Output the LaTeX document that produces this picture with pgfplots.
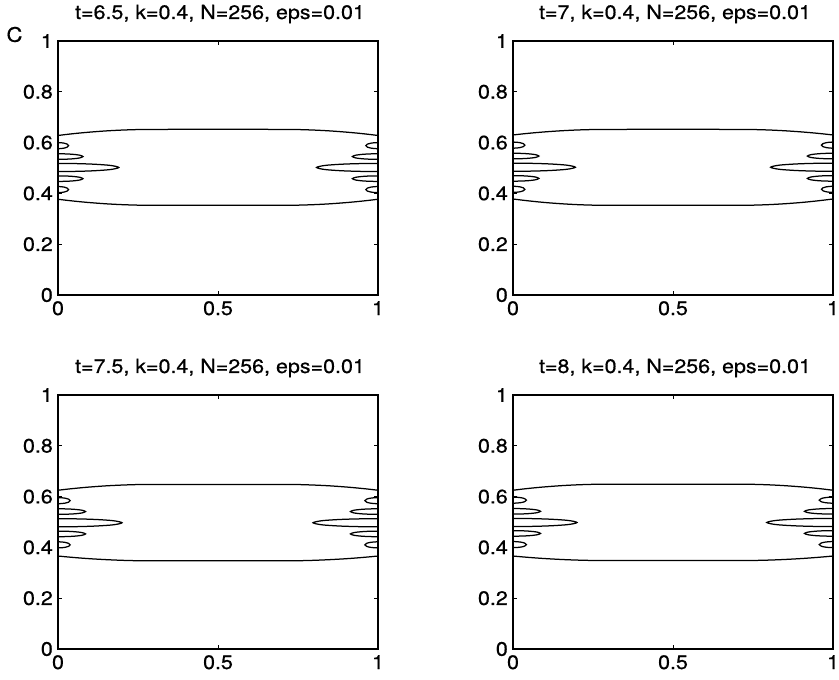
\documentclass[border=0pt]{standalone}
\usepackage{pgfplots}
\pgfplotsset{compat=1.18}
\usepackage{pgfplotstable}
\usepackage{fontspec}
\setmainfont{TeX Gyre Heros}[FakeStretch=1.1, FakeBold=0.6]

% Zero-level contour lines of the four snapshots; segments separated by nan rows
\pgfplotstableread{
x y
0 0.628
0.03 0.6326
0.0625 0.6370
0.1 0.6413
0.15 0.646
0.2 0.6493
0.25 0.6513
0.3 0.652
0.7 0.652
0.75 0.6513
0.8 0.6493
0.85 0.646
0.9 0.6413
0.9375 0.6370
0.97 0.6326
1 0.628
nan nan
0 0.377
0.03 0.3724
0.0625 0.3680
0.1 0.3637
0.15 0.359
0.2 0.3557
0.25 0.3537
0.3 0.353
0.7 0.353
0.75 0.3537
0.8 0.3557
0.85 0.359
0.9 0.3637
0.9375 0.3680
0.97 0.3724
1 0.377
nan nan
0 0.600
0.0103 0.5994
0.0198 0.5976
0.0286 0.594
0.033 0.588
0.0286 0.582
0.0198 0.5784
0.0103 0.5766
0 0.576
nan nan
0 0.556
0.0243 0.5555
0.0468 0.5538
0.0675 0.5505
0.078 0.545
0.0675 0.5395
0.0468 0.5362
0.0243 0.5346
0 0.534
nan nan
0 0.518
0.0593 0.5172
0.114 0.5148
0.1645 0.510
0.19 0.502
0.1645 0.494
0.114 0.4892
0.0593 0.4868
0 0.486
nan nan
0 0.469
0.0243 0.4685
0.0468 0.4668
0.0675 0.4635
0.078 0.458
0.0675 0.4525
0.0468 0.4492
0.0243 0.4476
0 0.447
nan nan
0 0.427
0.0103 0.4264
0.0198 0.4246
0.0286 0.421
0.033 0.415
0.0286 0.409
0.0198 0.4054
0.0103 0.4036
0 0.403
nan nan
1 0.600
0.9881 0.5994
0.9772 0.5976
0.9671 0.594
0.962 0.588
0.9671 0.582
0.9772 0.5784
0.9881 0.5766
1 0.576
nan nan
1 0.556
0.975 0.5555
0.952 0.5538
0.9307 0.5505
0.92 0.545
0.9307 0.5395
0.952 0.5362
0.975 0.5346
1 0.534
nan nan
1 0.518
0.9401 0.5172
0.8848 0.5148
0.8337 0.510
0.808 0.502
0.8337 0.494
0.8848 0.4892
0.9401 0.4868
1 0.486
nan nan
1 0.469
0.975 0.4685
0.952 0.4668
0.9307 0.4635
0.92 0.458
0.9307 0.4525
0.952 0.4492
0.975 0.4476
1 0.447
nan nan
1 0.427
0.9881 0.4264
0.9772 0.4246
0.9671 0.421
0.962 0.415
0.9671 0.409
0.9772 0.4054
0.9881 0.4036
1 0.403
}\contourA

\pgfplotstableread{
x y
0 0.630
0.03 0.6342
0.0625 0.6382
0.1 0.6422
0.15 0.6465
0.2 0.6496
0.25 0.6514
0.3 0.652
0.7 0.652
0.75 0.6514
0.8 0.6496
0.85 0.6465
0.9 0.6422
0.9375 0.6382
0.97 0.6342
1 0.630
nan nan
0 0.378
0.03 0.3733
0.0625 0.3687
0.1 0.3641
0.15 0.3593
0.2 0.3558
0.25 0.3537
0.3 0.353
0.7 0.353
0.75 0.3537
0.8 0.3558
0.85 0.3593
0.9 0.3641
0.9375 0.3687
0.97 0.3733
1 0.378
nan nan
0 0.602
0.0115 0.6014
0.0222 0.5996
0.032 0.596
0.037 0.590
0.032 0.584
0.0222 0.5804
0.0115 0.5786
0 0.578
nan nan
0 0.558
0.0253 0.5575
0.0486 0.5558
0.0701 0.5525
0.081 0.547
0.0701 0.5415
0.0486 0.5382
0.0253 0.5366
0 0.536
nan nan
0 0.519
0.0608 0.5182
0.117 0.5158
0.1689 0.511
0.195 0.503
0.1689 0.495
0.117 0.4902
0.0608 0.4878
0 0.487
nan nan
0 0.470
0.0253 0.4695
0.0486 0.4678
0.0701 0.4645
0.081 0.459
0.0701 0.4535
0.0486 0.4502
0.0253 0.4486
0 0.448
nan nan
0 0.428
0.0115 0.4274
0.0222 0.4256
0.032 0.422
0.037 0.416
0.032 0.410
0.0222 0.4064
0.0115 0.4046
0 0.404
nan nan
1 0.602
0.9888 0.6014
0.9784 0.5996
0.9688 0.596
0.964 0.590
0.9688 0.584
0.9784 0.5804
0.9888 0.5786
1 0.578
nan nan
1 0.558
0.975 0.5575
0.952 0.5558
0.9307 0.5525
0.92 0.547
0.9307 0.5415
0.952 0.5382
0.975 0.5366
1 0.536
nan nan
1 0.519
0.9392 0.5182
0.883 0.5158
0.8311 0.511
0.805 0.503
0.8311 0.495
0.883 0.4902
0.9392 0.4878
1 0.487
nan nan
1 0.470
0.975 0.4695
0.952 0.4678
0.9307 0.4645
0.92 0.459
0.9307 0.4535
0.952 0.4502
0.975 0.4486
1 0.448
nan nan
1 0.428
0.9888 0.4274
0.9784 0.4256
0.9688 0.422
0.964 0.416
0.9688 0.410
0.9784 0.4064
0.9888 0.4046
1 0.404
}\contourB

\pgfplotstableread{
x y
0 0.625
0.03 0.6294
0.0625 0.6336
0.1 0.6378
0.15 0.6423
0.2 0.6454
0.25 0.6474
0.3 0.648
0.7 0.648
0.75 0.6474
0.8 0.6454
0.85 0.6423
0.9 0.6378
0.9375 0.6336
0.97 0.6294
1 0.625
nan nan
0 0.366
0.03 0.3624
0.0625 0.3589
0.1 0.3554
0.15 0.3518
0.2 0.3491
0.25 0.3475
0.3 0.347
0.7 0.347
0.75 0.3475
0.8 0.3491
0.85 0.3518
0.9 0.3554
0.9375 0.3589
0.97 0.3624
1 0.366
nan nan
0 0.596
0.0119 0.5954
0.0228 0.5936
0.0329 0.590
0.038 0.584
0.0329 0.578
0.0228 0.5744
0.0119 0.5726
0 0.572
nan nan
0 0.552
0.0268 0.5515
0.0516 0.5498
0.0745 0.5465
0.086 0.541
0.0745 0.5355
0.0516 0.5322
0.0268 0.5306
0 0.530
nan nan
0 0.513
0.0624 0.5122
0.12 0.5098
0.1732 0.505
0.2 0.497
0.1732 0.489
0.12 0.4842
0.0624 0.4818
0 0.481
nan nan
0 0.464
0.0268 0.4635
0.0516 0.4618
0.0745 0.4585
0.086 0.453
0.0745 0.4475
0.0516 0.4442
0.0268 0.4426
0 0.442
nan nan
0 0.422
0.0119 0.4214
0.0228 0.4196
0.0329 0.416
0.038 0.410
0.0329 0.404
0.0228 0.4004
0.0119 0.3986
0 0.398
nan nan
1 0.596
0.9872 0.5954
0.9754 0.5936
0.9645 0.590
0.959 0.584
0.9645 0.578
0.9754 0.5744
0.9872 0.5726
1 0.572
nan nan
1 0.552
0.9732 0.5515
0.9484 0.5498
0.9255 0.5465
0.914 0.541
0.9255 0.5355
0.9484 0.5322
0.9732 0.5306
1 0.530
nan nan
1 0.513
0.9367 0.5122
0.8782 0.5098
0.8242 0.505
0.797 0.497
0.8242 0.489
0.8782 0.4842
0.9367 0.4818
1 0.481
nan nan
1 0.464
0.9732 0.4635
0.9484 0.4618
0.9255 0.4585
0.914 0.453
0.9255 0.4475
0.9484 0.4442
0.9732 0.4426
1 0.442
nan nan
1 0.422
0.9872 0.4214
0.9754 0.4196
0.9645 0.416
0.959 0.410
0.9645 0.404
0.9754 0.4004
0.9872 0.3986
1 0.398
}\contourC

\pgfplotstableread{
x y
0 0.625
0.03 0.6296
0.0625 0.634
0.1 0.6383
0.15 0.643
0.2 0.6463
0.25 0.6483
0.3 0.649
0.7 0.649
0.75 0.6483
0.8 0.6463
0.85 0.643
0.9 0.6383
0.9375 0.634
0.97 0.6296
1 0.625
nan nan
0 0.366
0.03 0.3626
0.0625 0.3593
0.1 0.356
0.15 0.3525
0.2 0.350
0.25 0.3485
0.3 0.348
0.7 0.348
0.75 0.3485
0.8 0.350
0.85 0.3525
0.9 0.356
0.9375 0.3593
0.97 0.3626
1 0.366
nan nan
0 0.598
0.0131 0.5974
0.0252 0.5956
0.0364 0.592
0.042 0.586
0.0364 0.580
0.0252 0.5764
0.0131 0.5746
0 0.574
nan nan
0 0.553
0.0268 0.5525
0.0516 0.5508
0.0745 0.5475
0.086 0.542
0.0745 0.5365
0.0516 0.5332
0.0268 0.5316
0 0.531
nan nan
0 0.514
0.0624 0.5132
0.12 0.5108
0.1732 0.506
0.2 0.498
0.1732 0.490
0.12 0.4852
0.0624 0.4828
0 0.482
nan nan
0 0.466
0.0268 0.4655
0.0516 0.4638
0.0745 0.4605
0.086 0.455
0.0745 0.4495
0.0516 0.4462
0.0268 0.4446
0 0.444
nan nan
0 0.423
0.0131 0.4224
0.0252 0.4206
0.0364 0.417
0.042 0.411
0.0364 0.405
0.0252 0.4014
0.0131 0.3996
0 0.399
nan nan
1 0.598
0.9866 0.5974
0.9742 0.5956
0.9628 0.592
0.957 0.586
0.9628 0.580
0.9742 0.5764
0.9866 0.5746
1 0.574
nan nan
1 0.553
0.9722 0.5525
0.9466 0.5508
0.9229 0.5475
0.911 0.542
0.9229 0.5365
0.9466 0.5332
0.9722 0.5316
1 0.531
nan nan
1 0.514
0.9354 0.5132
0.8758 0.5108
0.8207 0.506
0.793 0.498
0.8207 0.490
0.8758 0.4852
0.9354 0.4828
1 0.482
nan nan
1 0.466
0.9722 0.4655
0.9466 0.4638
0.9229 0.4605
0.911 0.455
0.9229 0.4495
0.9466 0.4462
0.9722 0.4446
1 0.444
nan nan
1 0.423
0.9866 0.4224
0.9742 0.4206
0.9628 0.417
0.957 0.411
0.9628 0.405
0.9742 0.4014
0.9866 0.3996
1 0.399
}\contourD

\pgfplotsset{
  panel/.style={
    scale only axis, width=320pt, height=254pt,
    anchor=south west,
    xmin=0, xmax=1, ymin=0, ymax=1,
    xtick={0,0.5,1}, ytick={0,0.2,0.4,0.6,0.8,1},
    tick align=inside, major tick length=4pt,
    axis line style={line width=1.3pt, black},
    every tick/.style={line width=0.9pt, black},
    /pgf/number format/assume math mode=true,
    ticklabel style={font=\fontsize{19.5}{22}\selectfont},
    yticklabel style={inner sep=0pt, xshift=-5pt},
    xticklabel style={inner sep=0pt, yshift=-6pt},
    title style={font=\fontsize{19.5}{22}\selectfont, at={(0.5,1)},
                 anchor=base, yshift=16pt, inner sep=0pt, xshift=2pt},
    unbounded coords=jump,
  },
  contour/.style={black, line width=1.25pt, smooth, no markers},
}

\begin{document}
\begin{tikzpicture}
\useasboundingbox (0,0) rectangle (839pt,680pt);

\begin{axis}[panel, at={(58pt,385pt)}, title={t=6.5, k=0.4, N=256, eps=0.01}]
  \addplot[contour] table[x=x, y=y] {\contourA};
\end{axis}

\begin{axis}[panel, at={(513pt,385pt)}, title={t=7, k=0.4, N=256, eps=0.01}]
  \addplot[contour] table[x=x, y=y] {\contourB};
\end{axis}

\begin{axis}[panel, at={(58pt,31pt)}, title={t=7.5, k=0.4, N=256, eps=0.01}]
  \addplot[contour] table[x=x, y=y] {\contourC};
\end{axis}

\begin{axis}[panel, at={(513pt,31pt)}, title={t=8, k=0.4, N=256, eps=0.01}]
  \addplot[contour] table[x=x, y=y] {\contourD};
\end{axis}

\node[font=\fontsize{20}{22}\selectfont, inner sep=0pt] at (14.5pt,645.5pt) {C};
\end{tikzpicture}
\end{document}
